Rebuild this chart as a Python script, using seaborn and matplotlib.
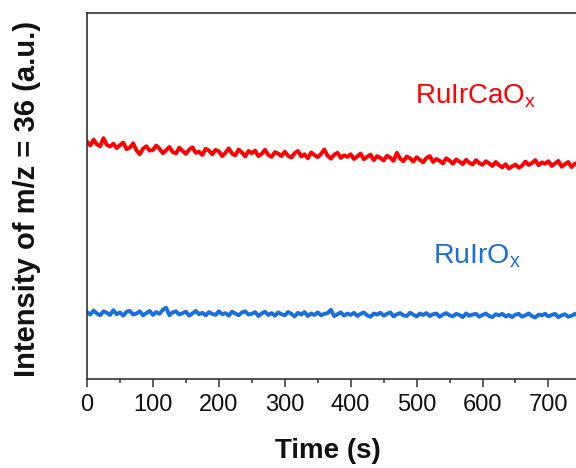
import numpy as np
import pandas as pd
import seaborn as sns
import matplotlib
matplotlib.use("Agg")
import matplotlib.pyplot as plt
from matplotlib.ticker import MultipleLocator

# Time axis (s), sampled every 5 s
time_s = np.arange(0, 765, 5)

# m/z = 36 ion current (a.u.) for RuIrCaOx
rulrcao_x = [
    64.9, 63.8, 65.4, 64.1, 63.6, 65.8, 64.0, 63.5, 64.3, 63.1,
    63.9, 64.6, 62.8, 63.2, 64.4, 62.5, 61.4, 62.9, 63.6, 62.4,
    62.6, 63.8, 62.9, 61.7, 62.5, 63.4, 62.0, 61.6, 63.2, 62.3,
    61.5, 62.7, 63.3, 61.8, 62.1, 61.2, 62.9, 62.4, 61.4, 62.6,
    62.2, 60.9, 61.8, 63.0, 61.6, 61.1, 62.7, 61.9, 60.8, 62.3,
    61.7, 62.4, 60.9, 61.5, 62.6, 61.2, 60.7, 62.0, 61.6, 60.9,
    62.1, 61.0, 60.5, 61.7, 62.3, 60.8, 61.4, 60.3, 61.9, 61.2,
    60.6, 61.5, 62.7, 61.0, 60.2, 61.3, 61.8, 60.4, 61.1, 60.7,
    61.4, 60.1, 60.8, 61.6, 60.0, 60.7, 61.3, 59.8, 60.9, 60.4,
    59.7, 61.0, 60.5, 59.6, 61.8, 60.2, 59.5, 60.8, 60.3, 59.4,
    60.6, 59.9, 59.2, 60.4, 60.9, 59.3, 60.1, 59.6, 58.9, 60.3,
    59.7, 58.8, 60.0, 59.4, 58.7, 59.9, 59.1, 58.6, 59.8, 59.0,
    58.5, 59.5, 58.9, 58.2, 59.3, 58.4, 57.8, 58.7, 57.5, 58.1,
    58.6, 57.7, 58.3, 59.4, 58.5, 59.0, 59.8, 58.4, 59.2, 58.8,
    59.5, 58.2, 58.9, 59.6, 58.0, 58.7, 59.3, 57.9, 58.8, 59.1,
    58.1, 58.9, 58.4,
]

# m/z = 36 ion current (a.u.) for RuIrOx
rulro_x = [
    18.3, 17.6, 18.7, 17.9, 17.4, 18.5, 18.1, 17.5, 18.8, 17.7,
    18.2, 17.3, 18.4, 18.6, 17.6, 17.9, 18.5, 17.4, 18.0, 18.6,
    17.5, 18.3, 17.8, 18.9, 19.5, 17.4, 18.2, 18.5, 17.6, 18.0,
    18.4, 17.3, 17.9, 18.6, 17.7, 18.1, 17.4, 18.3, 17.8, 17.5,
    18.5, 17.7, 18.0, 17.3, 18.4, 17.9, 17.4, 18.2, 18.5, 17.6,
    17.8, 18.3, 17.2, 17.9, 18.4, 17.5, 18.0, 17.3, 18.2, 17.7,
    17.4, 18.3, 17.8, 17.1, 18.1, 17.6, 18.3, 17.2, 17.9, 17.5,
    18.2, 17.4, 17.8, 18.0, 18.9, 17.2, 17.7, 18.2, 17.3, 17.9,
    17.5, 18.1, 17.2, 17.8, 18.2, 17.4, 17.0, 17.9, 17.6, 18.1,
    17.3, 17.8, 18.2, 17.1, 17.7, 18.0, 17.4, 17.2, 18.1, 17.6,
    17.1, 17.9, 17.5, 18.0, 17.2, 17.7, 17.9, 17.0, 17.6, 18.0,
    17.4, 17.1, 17.8, 17.5, 16.9, 17.9, 17.3, 17.6, 17.8, 17.0,
    17.5, 17.9, 17.2, 16.9, 17.7, 17.4, 17.8, 17.1, 17.5, 16.9,
    17.6, 17.8, 17.0, 17.4, 17.9, 17.2, 16.8, 17.6, 17.4, 17.8,
    17.1, 17.5, 17.8, 16.9, 17.4, 17.7, 17.0, 17.3, 17.8, 17.2,
    16.9, 17.6, 17.3,
]

samples = ["RuIrCaOx", "RuIrOx"]
colors = {"RuIrCaOx": "#ff0000", "RuIrOx": "#1a6fdf"}

df = pd.concat([
    pd.DataFrame({"Time (s)": time_s, "Intensity": rulrcao_x, "sample": samples[0]}),
    pd.DataFrame({"Time (s)": time_s, "Intensity": rulro_x, "sample": samples[1]}),
])

sns.set_theme(style="ticks")
plt.rcParams["font.family"] = ["Liberation Sans", "DejaVu Sans"]
plt.rcParams["mathtext.fontset"] = "custom"
plt.rcParams["mathtext.rm"] = "Liberation Sans"

fig = plt.figure(figsize=(5.76, 4.68), dpi=100)
W, H = 576, 468
ax_left, ax_bottom, ax_top = 87, 379, 13
ax_w = 501
ax = fig.add_axes([ax_left / W, 1 - ax_bottom / H, ax_w / W, (ax_bottom - ax_top) / H])

sns.lineplot(data=df, x="Time (s)", y="Intensity", hue="sample",
             palette=colors, linewidth=2.8, legend=False, ax=ax)

ax.set_xlim(0, 760)
ax.set_ylim(0, 100)
ax.set_yticks([])
ax.xaxis.set_major_locator(MultipleLocator(100))
ax.xaxis.set_minor_locator(MultipleLocator(50))
ax.tick_params(axis="x", which="major", direction="out", length=5.5, width=1.1,
               color="#333333", labelsize=17, labelcolor="#111111", pad=5)
ax.tick_params(axis="x", which="minor", direction="out", length=3, width=1.1,
               color="#333333")
for sp in ax.spines.values():
    sp.set_color("#333333")
    sp.set_linewidth(1.2)

ax.set_xlabel("Time (s)", fontsize=20, fontweight="bold", color="#111111")
ax.set_ylabel("Intensity of m/z = 36 (a.u.)", fontsize=21, fontweight="bold",
              color="#111111")
ax.xaxis.set_label_coords((328 - ax_left) / ax_w, -(438 - ax_bottom) / (ax_bottom - ax_top))
ax.yaxis.set_label_coords(-(ax_left - 41) / ax_w, (ax_bottom - 199) / (ax_bottom - ax_top))

fig.text(415 / W, 1 - 103 / H, r"RuIrCaO$_\mathregular{x}$", color=colors["RuIrCaOx"],
         fontsize=20, ha="left", va="baseline")
fig.text(433 / W, 1 - 263 / H, r"RuIrO$_\mathregular{x}$", color=colors["RuIrOx"],
         fontsize=20.5, ha="left", va="baseline")

fig.savefig("out.png", dpi=100)
